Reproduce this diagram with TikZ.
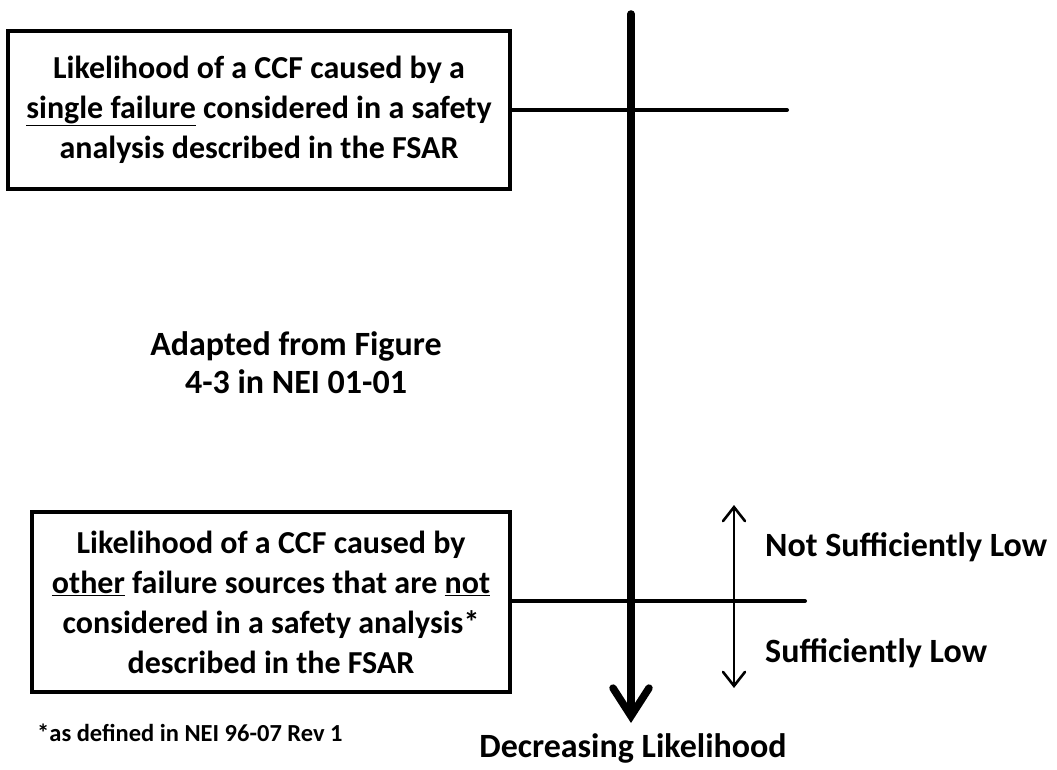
\documentclass[tikz,border=0pt]{standalone}
\usepackage{fontspec}
\setmainfont{Carlito}
\usetikzlibrary{arrows.meta}
\tikzset{
  box/.style={draw, line width=4pt, align=center, inner sep=0pt,
    font=\bfseries\fontsize{32}{40}\selectfont},
  lbl/.style={inner sep=0pt, font=\bfseries\fontsize{34}{38}\selectfont},
  note/.style={inner sep=0pt, font=\bfseries\fontsize{24.5}{28}\selectfont},
  axis/.style={line width=7.5pt, line cap=round,
    -{Straight Barb[length=28pt, width=36pt, line cap=round]}},
  conn/.style={line width=4pt, line cap=round},
  small/.style={line width=2.6pt,
    -{Straight Barb[length=14pt, width=22pt, line cap=round]}}
}
\begin{document}
\begin{tikzpicture}[x=1pt, y=-1pt]
\useasboundingbox (0,0) rectangle (1057,770);
\node[box, minimum width=502pt, minimum height=158pt] (b1) at (259,110)
  {Likelihood of a CCF caused by a\\\underline{single failure} considered in a safety\\analysis described in the FSAR};
\node[box, minimum width=478pt, minimum height=180pt] (b2) at (271,602)
  {Likelihood of a CCF caused by\\\underline{other} failure sources that are \underline{not}\\considered in a safety analysis*\\described in the FSAR};
\coordinate (top) at (631,14);
\coordinate (bot) at (631,723);
\coordinate (r1) at (787,110);
\coordinate (r2) at (805,601);
\coordinate (j) at (734,601);
\coordinate (up) at (734,505);
\coordinate (dn) at (734,688);
\draw[conn] (b1.east) -- (r1);
\draw[conn] (b2.east |- r2) -- (r2);
\draw[axis] (top) -- (bot);
\draw[small] (j) -- (up);
\draw[small] (j) -- (dn);
\node[lbl, anchor=west] (ns) at (765,547) {Not Sufficiently Low};
\node[lbl, anchor=west] (sl) at (765,653) {Sufficiently Low};
\node[lbl] (dl) at (633,748) {Decreasing Likelihood};
\node[lbl, align=center] (ad) at (296,363) {Adapted from Figure\\4-3 in NEI 01-01};
\node[note, anchor=west] (fn) at (37,733) {*as defined in NEI 96-07 Rev 1};
\end{tikzpicture}
\end{document}
